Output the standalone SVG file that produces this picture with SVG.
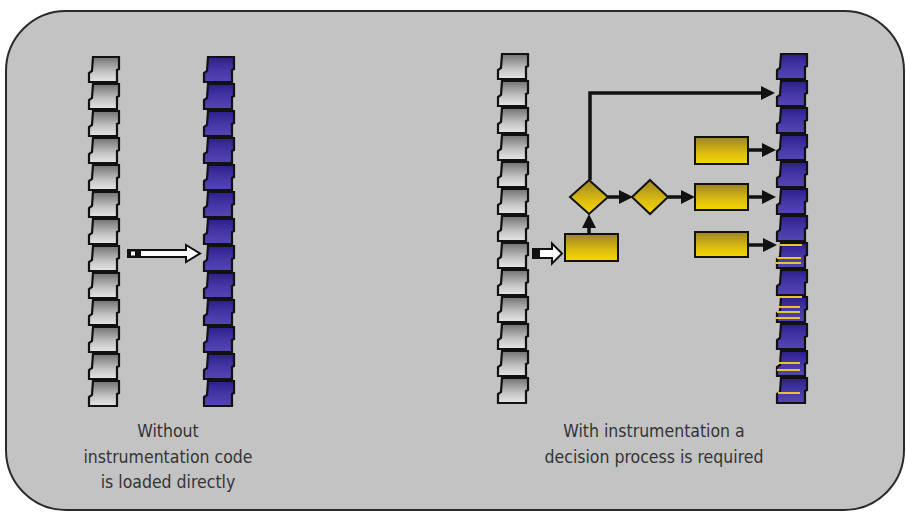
<svg xmlns="http://www.w3.org/2000/svg" xmlns:xlink="http://www.w3.org/1999/xlink" width="906" height="512" viewBox="0 0 906 512">
<style>
.gray{fill:url(#gGray);stroke:#111;stroke-width:2.2;stroke-linejoin:miter}
.blue{fill:url(#gBlue);stroke:#111;stroke-width:2.2;stroke-linejoin:miter}
.yel{fill:url(#gYel);stroke:#111;stroke-width:2}
.conn{fill:none;stroke:#111;stroke-width:3.5}
.hl{stroke:#e8c430;stroke-width:2}
.lbl{font-family:"DejaVu Sans Condensed","DejaVu Sans","Liberation Sans",sans-serif;font-stretch:condensed;font-size:17.5px;fill:#333;text-anchor:middle}
.hollow{fill:#fff;stroke:#111;stroke-width:2}
</style>
<defs>
<linearGradient id="gGray" x1="0" y1="0" x2="0" y2="1">
<stop offset="0" stop-color="#727272"/><stop offset="0.6" stop-color="#c4c4c4"/><stop offset="1" stop-color="#e6e6e6"/>
</linearGradient>
<linearGradient id="gBlue" x1="0" y1="0" x2="0" y2="1">
<stop offset="0" stop-color="#2c1f8a"/><stop offset="0.5" stop-color="#4536a6"/><stop offset="1" stop-color="#5446b2"/>
</linearGradient>
<linearGradient id="gYel" x1="0" y1="0" x2="0" y2="1">
<stop offset="0" stop-color="#9c8424"/><stop offset="0.6" stop-color="#dcbc10"/><stop offset="1" stop-color="#f6d800"/>
</linearGradient>
<marker id="ah" markerUnits="userSpaceOnUse" markerWidth="14" markerHeight="14" refX="6" refY="7" orient="auto">
<path d="M0,0 L14,7 L0,14 Z" fill="#111"/>
</marker>
<path id="blk" d="M5,1 H31 V13 L29,14 V26 H1 V17 L4,15 Z"/>
</defs>

<rect x="6" y="11" width="898" height="499" rx="60" ry="60" fill="#c3c3c3" stroke="#2a2a2a" stroke-width="2"/>

<g id="stack-left-gray">
<use href="#blk" class="gray" x="88" y="56"/><use href="#blk" class="gray" x="88" y="83"/><use href="#blk" class="gray" x="88" y="110"/><use href="#blk" class="gray" x="88" y="137"/><use href="#blk" class="gray" x="88" y="164"/><use href="#blk" class="gray" x="88" y="191"/><use href="#blk" class="gray" x="88" y="218"/><use href="#blk" class="gray" x="88" y="245"/><use href="#blk" class="gray" x="88" y="272"/><use href="#blk" class="gray" x="88" y="299"/><use href="#blk" class="gray" x="88" y="326"/><use href="#blk" class="gray" x="88" y="353"/><use href="#blk" class="gray" x="88" y="380"/>
</g>
<g id="stack-left-blue">
<use href="#blk" class="blue" x="203" y="56"/><use href="#blk" class="blue" x="203" y="83"/><use href="#blk" class="blue" x="203" y="110"/><use href="#blk" class="blue" x="203" y="137"/><use href="#blk" class="blue" x="203" y="164"/><use href="#blk" class="blue" x="203" y="191"/><use href="#blk" class="blue" x="203" y="218"/><use href="#blk" class="blue" x="203" y="245"/><use href="#blk" class="blue" x="203" y="272"/><use href="#blk" class="blue" x="203" y="299"/><use href="#blk" class="blue" x="203" y="326"/><use href="#blk" class="blue" x="203" y="353"/><use href="#blk" class="blue" x="203" y="380"/>
</g>
<g id="stack-right-gray">
<use href="#blk" class="gray" x="497" y="53"/><use href="#blk" class="gray" x="497" y="80"/><use href="#blk" class="gray" x="497" y="107"/><use href="#blk" class="gray" x="497" y="134"/><use href="#blk" class="gray" x="497" y="161"/><use href="#blk" class="gray" x="497" y="188"/><use href="#blk" class="gray" x="497" y="215"/><use href="#blk" class="gray" x="497" y="242"/><use href="#blk" class="gray" x="497" y="269"/><use href="#blk" class="gray" x="497" y="296"/><use href="#blk" class="gray" x="497" y="323"/><use href="#blk" class="gray" x="497" y="350"/><use href="#blk" class="gray" x="497" y="377"/>
</g>
<g id="stack-right-blue">
<use href="#blk" class="blue" x="776" y="53"/><use href="#blk" class="blue" x="776" y="80"/><use href="#blk" class="blue" x="776" y="107"/><use href="#blk" class="blue" x="776" y="134"/><use href="#blk" class="blue" x="776" y="161"/><use href="#blk" class="blue" x="776" y="188"/><use href="#blk" class="blue" x="776" y="215"/><use href="#blk" class="blue" x="776" y="242"/><use href="#blk" class="blue" x="776" y="269"/><use href="#blk" class="blue" x="776" y="296"/><use href="#blk" class="blue" x="776" y="323"/><use href="#blk" class="blue" x="776" y="350"/><use href="#blk" class="blue" x="776" y="377"/>
<line class="hl" x1="780" y1="245" x2="802" y2="245"/>
<line class="hl" x1="777" y1="258" x2="801" y2="258"/>
<line class="hl" x1="776" y1="263" x2="801" y2="263"/>
<line class="hl" x1="778" y1="297" x2="802" y2="297"/>
<line class="hl" x1="778" y1="307" x2="800" y2="307"/>
<line class="hl" x1="777" y1="312" x2="800" y2="312"/>
<line class="hl" x1="776" y1="318" x2="800" y2="318"/>
<line class="hl" x1="778" y1="363" x2="800" y2="363"/>
<line class="hl" x1="777" y1="370" x2="800" y2="370"/>
<line class="hl" x1="778" y1="393" x2="800" y2="393"/>
</g>

<g id="arrow-left">
<rect x="127" y="249" width="13" height="9" fill="#111"/>
<rect x="131" y="251.5" width="4" height="4" fill="#fff"/>
<path class="hollow" d="M140,250 H186 V245 L200,253.5 L186,262 V257 H140 Z"/>
</g>
<g id="arrow-right">
<rect x="532" y="248" width="7" height="11" fill="#111"/>
<path class="hollow" d="M539,249 H552 V243.5 L562,253.5 L552,263.5 V258 H539 Z"/>
</g>

<g id="proc-rect"><rect class="yel" x="565" y="234" width="53" height="27"/></g>
<g id="decision-1"><path class="yel" d="M589,180 L608,197 L589,214 L570,197 Z"/></g>
<g id="decision-2"><path class="yel" d="M650,180 L668,197 L650,214 L632,197 Z"/></g>
<g id="rect-top"><rect class="yel" x="695" y="137" width="53" height="27"/></g>
<g id="rect-mid"><rect class="yel" x="695" y="184" width="53" height="26"/></g>
<g id="rect-bot"><rect class="yel" x="695" y="232" width="53" height="25"/></g>

<g id="connectors">
<line class="conn" x1="589" y1="234" x2="589" y2="222" marker-end="url(#ah)"/>
<polyline class="conn" points="590,180 590,93 767,93" marker-end="url(#ah)"/>
<line class="conn" x1="608" y1="197" x2="625" y2="197" marker-end="url(#ah)"/>
<line class="conn" x1="668" y1="197" x2="687" y2="197" marker-end="url(#ah)"/>
<line class="conn" x1="748" y1="150" x2="768" y2="150" marker-end="url(#ah)"/>
<line class="conn" x1="748" y1="197" x2="768" y2="197" marker-end="url(#ah)"/>
<line class="conn" x1="748" y1="245" x2="769" y2="245" marker-end="url(#ah)"/>
</g>

<g id="labels">
<text class="lbl" x="168" y="437">Without</text>
<text class="lbl" x="168" y="463">instrumentation code</text>
<text class="lbl" x="168" y="488">is loaded directly</text>
<text class="lbl" x="654" y="437">With instrumentation a</text>
<text class="lbl" x="654" y="463">decision process is required</text>
</g>
</svg>
